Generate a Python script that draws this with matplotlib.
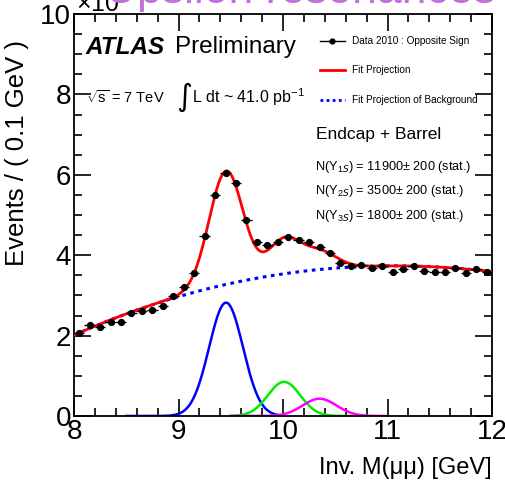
import numpy as np
import matplotlib
matplotlib.use("Agg")
import matplotlib.pyplot as plt
from matplotlib.ticker import MultipleLocator

plt.rcParams['font.family'] = ['Liberation Sans', 'DejaVu Sans']
plt.rcParams['mathtext.fontset'] = 'custom'
plt.rcParams['mathtext.rm'] = 'Liberation Sans'

# data points, events per 0.1 GeV (x 10^3)
mass_bins = [8.05, 8.15, 8.25, 8.35, 8.45, 8.55, 8.65, 8.75, 8.85, 8.95,
             9.05, 9.15, 9.25, 9.35, 9.45, 9.55, 9.65, 9.75, 9.85, 9.95,
             10.05, 10.15, 10.25, 10.35, 10.45, 10.55, 10.65, 10.75, 10.85, 10.95,
             11.05, 11.15, 11.25, 11.35, 11.45, 11.55, 11.65, 11.75, 11.85, 11.95]
events = [2.06, 2.26, 2.22, 2.35, 2.35, 2.57, 2.61, 2.64, 2.74, 2.99,
          3.20, 3.55, 4.48, 5.50, 6.05, 5.79, 4.87, 4.32, 4.25, 4.33,
          4.46, 4.39, 4.34, 4.21, 4.06, 3.80, 3.72, 3.76, 3.69, 3.73,
          3.57, 3.65, 3.72, 3.61, 3.58, 3.57, 3.67, 3.55, 3.65, 3.59]

# background fit projection
bkg_mass = [8.0, 8.5, 8.9, 9.46, 10.1, 10.74, 11.5, 12.0]
bkg_level = [2.06, 2.45, 2.88, 3.33, 3.61, 3.69, 3.66, 3.62]

# upsilon peaks: mean, width, height, drawn range
peak_mass = [9.455, 10.01, 10.35]
peak_sigma = [0.162, 0.155, 0.163]
peak_height = [2.82, 0.85, 0.43]
peak_lo = [8.5, 9.5, 9.5]
peak_hi = [10.0, 10.8, 11.0]
peak_colors = ['#0000ff', '#00ee00', '#ff00ff']

yields = ["N(Y$_{1S}$) = 11900$\\pm$ 200 (stat.)",
          "N(Y$_{2S}$) = 3500$\\pm$ 200 (stat.)",
          "N(Y$_{3S}$) = 1800$\\pm$ 200 (stat.)"]

def gauss(x, m, s, h):
    return h * np.exp(-0.5 * ((x - m) / s) ** 2)

fig = plt.figure(figsize=(5.06, 4.91), dpi=100)
ax = fig.add_axes([74 / 506, 75 / 491, 418 / 506, 402 / 491])

xs = np.linspace(8, 12, 800)
bkg_coef = np.polyfit(bkg_mass, bkg_level, 3)
bkg = np.polyval(bkg_coef, xs)
total = bkg.copy()
for m, s, h in zip(peak_mass, peak_sigma, peak_height):
    total += gauss(xs, m, s, h)

for m, s, h, lo, hi, c in zip(peak_mass, peak_sigma, peak_height, peak_lo, peak_hi, peak_colors):
    xx = np.linspace(lo, hi, 300)
    ax.plot(xx, gauss(xx, m, s, h), color=c, lw=1.8, zorder=2)

ax.plot(xs, bkg, color='#0000ff', lw=2.2, ls=(0, (1.2, 1.5)), zorder=3)
ax.plot(xs, total, color='#ff0000', lw=2.0, zorder=4)

ev = np.array(events)
ax.errorbar(mass_bins, ev, xerr=0.05, yerr=np.sqrt(ev * 1000) / 1000,
            fmt='o', color='black', ms=4.2, elinewidth=1.0, capsize=0, zorder=5)

ax.set_xlim(8, 12)
ax.set_ylim(0, 10)
ax.xaxis.set_major_locator(MultipleLocator(1))
ax.xaxis.set_minor_locator(MultipleLocator(0.2))
ax.yaxis.set_major_locator(MultipleLocator(2))
ax.yaxis.set_minor_locator(MultipleLocator(0.5))
ax.tick_params(which='both', direction='in', top=True, right=True, labelsize=20, width=1.2)
ax.tick_params(which='major', length=12, pad=2)
ax.tick_params(which='minor', length=6)
for sp in ax.spines.values():
    sp.set_linewidth(1.3)

fig.text(492 / 506, 1 - 468 / 491, "Inv. M(μμ) [GeV]", ha='right', va='center', fontsize=17)
fig.text(17 / 506, 1 - 40 / 491, "Events / ( 0.1 GeV )", rotation=90, ha='center', va='top', fontsize=18.5)
fig.text(76 / 506, 1 - 12 / 491, "×10$^3$", ha='left', va='baseline', fontsize=18)
fig.text(300 / 506, 1 - 3 / 491, "Upsilon resonances", ha='center', va='baseline',
         fontsize=32, color='#c070d8')

def ax_pt(px, py):
    return (px - 74) / 418, (416 - py) / 402

x, y = ax_pt(86, 47)
ax.text(x, y, "ATLAS", transform=ax.transAxes, fontsize=17.5, weight='bold', style='italic', va='center')
x, y = ax_pt(175, 47)
ax.text(x, y, "Preliminary", transform=ax.transAxes, fontsize=17.5, va='center')
x, y = ax_pt(86, 97)
ax.text(x, y, "$\\sqrt{\\mathrm{s}}$ = 7 TeV", transform=ax.transAxes, fontsize=10.5, va='center')
x, y = ax_pt(176, 97)
ax.text(x, y, "∫", transform=ax.transAxes, fontsize=22, va='center', family='DejaVu Sans')
x, y = ax_pt(192, 97)
ax.text(x, y, "L dt ~ 41.0 pb$^{-1}$", transform=ax.transAxes, fontsize=11.5, va='center')

leg_y = [41, 70, 100]
x0, _ = ax_pt(320, 0)
x1, _ = ax_pt(345, 0)
xt, _ = ax_pt(352, 0)
_, y = ax_pt(0, leg_y[0])
ax.plot([x0, x1], [y, y], color='black', lw=1, transform=ax.transAxes)
ax.plot([(x0 + x1) / 2], [y], 'o', color='black', ms=3.5, transform=ax.transAxes)
ax.text(xt, y, "Data 2010 : Opposite Sign", transform=ax.transAxes, fontsize=7.2, va='center')
_, y = ax_pt(0, leg_y[1])
ax.plot([x0, x1], [y, y], color='#ff0000', lw=2, transform=ax.transAxes)
ax.text(xt, y, "Fit Projection", transform=ax.transAxes, fontsize=7.2, va='center')
_, y = ax_pt(0, leg_y[2])
ax.plot([x0, x1], [y, y], color='#0000ff', lw=2, ls=(0, (1, 1.2)), transform=ax.transAxes)
ax.text(xt, y, "Fit Projection of Background", transform=ax.transAxes, fontsize=7.2, va='center')

x, y = ax_pt(316, 135)
ax.text(x, y, "Endcap + Barrel", transform=ax.transAxes, fontsize=12.5, va='center')
for label, py in zip(yields, [167, 191, 216]):
    x, y = ax_pt(315, py)
    ax.text(x, y, label, transform=ax.transAxes, fontsize=9.2, va='center')

fig.savefig("out.png", dpi=100)
